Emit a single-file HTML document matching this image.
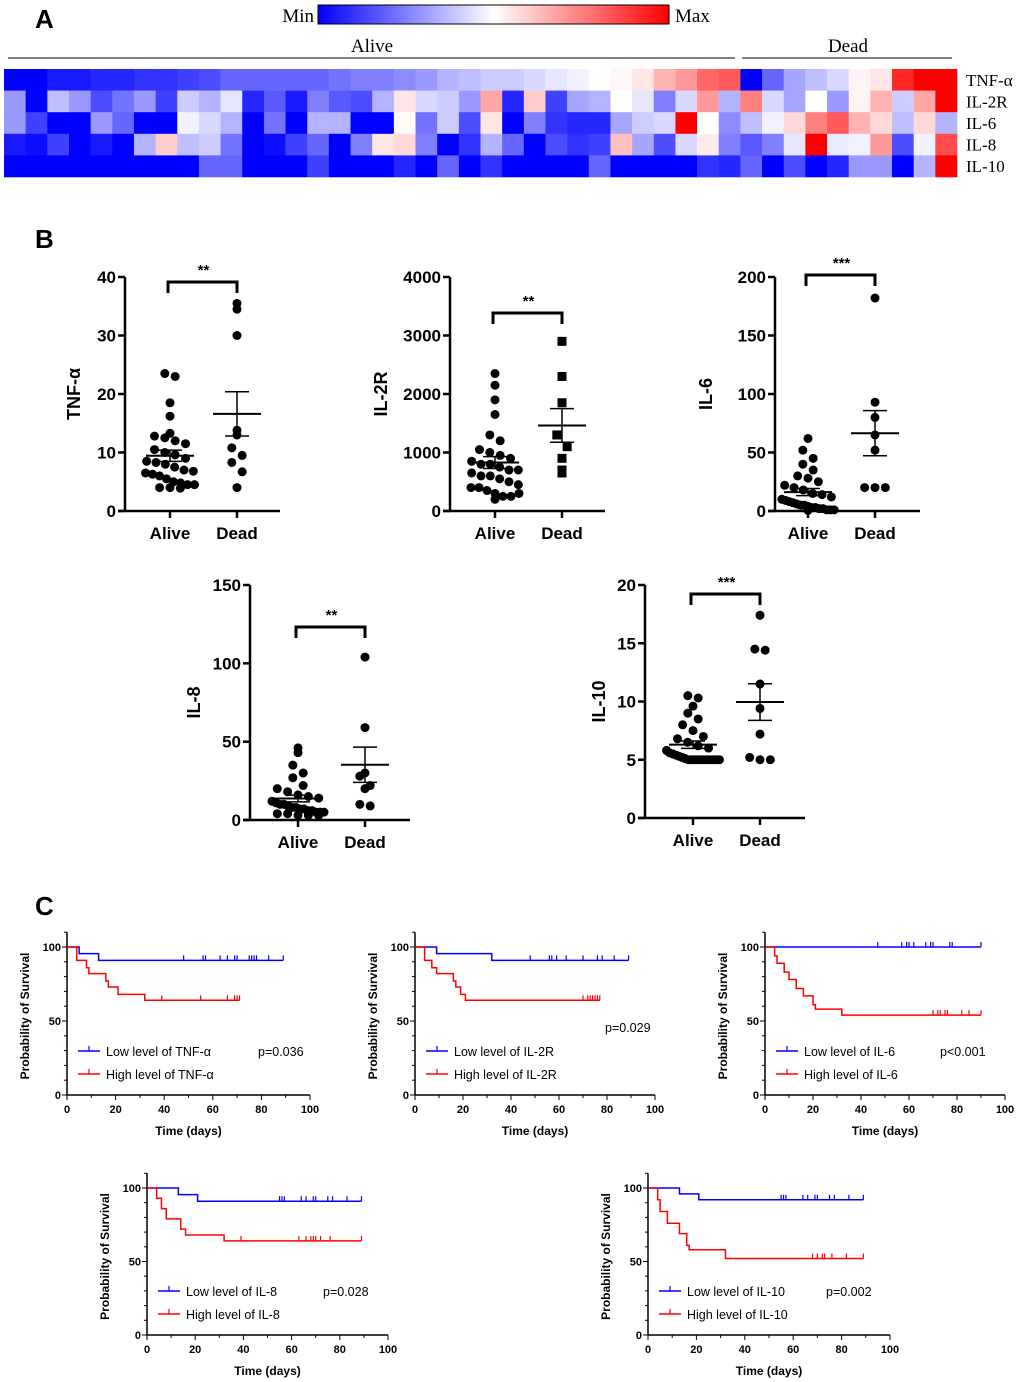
<!DOCTYPE html>
<html><head><meta charset="utf-8"><style>
body{margin:0;background:#fff}
svg{display:block;font-family:"Liberation Sans",Arial,sans-serif}
</style></head><body>
<svg id="fig" width="1020" height="1382" viewBox="0 0 1020 1382">
<defs><linearGradient id="gr" x1="0" x2="1"><stop offset="0" stop-color="#0000ff"/><stop offset="0.5" stop-color="#ffffff"/><stop offset="1" stop-color="#ff0000"/></linearGradient></defs>
<text x="35" y="28" font-size="26" font-weight="bold">A</text>
<text x="314" y="22" font-size="19" text-anchor="end" font-family="Liberation Serif,serif">Min</text>
<rect x="318" y="5" width="351" height="19" fill="url(#gr)" stroke="#000"/>
<text x="675" y="22" font-size="19" font-family="Liberation Serif,serif">Max</text>
<line x1="8" y1="58" x2="735" y2="58" stroke="#000"/>
<text x="372" y="52" font-size="19" text-anchor="middle" font-family="Liberation Serif,serif">Alive</text>
<line x1="742" y1="58" x2="952" y2="58" stroke="#000"/>
<text x="848" y="52" font-size="19" text-anchor="middle" font-family="Liberation Serif,serif">Dead</text>
<g id="heat"></g>
<text x="35" y="248" font-size="26" font-weight="bold">B</text>
<g id="scat"></g>
<text x="35" y="915" font-size="26" font-weight="bold">C</text>
<g id="km"></g>
</svg>
<script>
const heatRows = ["TNF-α","IL-2R","IL-6","IL-8","IL-10"];
const heatTNF = [-1,-1,-0.9,-0.9,-0.85,-0.85,-0.8,-0.8,-0.75,-0.7,-0.6,-0.6,-0.6,-0.6,-0.6,-0.55,-0.5,-0.5,-0.45,-0.4,-0.3,-0.25,-0.2,-0.2,-0.15,-0.1,-0.05,0,0.03,0.1,0.3,0.4,0.6,0.65,-1,-0.6,-0.35,-0.25,-0.15,0.05,0.1,0.85,1,1];
const heatIL2R = [-0.4,-1,-0.25,-0.4,-0.7,-0.55,-0.4,-0.75,-0.2,-0.3,-0.1,-0.85,-0.65,-0.9,-0.5,-0.65,-0.7,-0.3,0.1,-0.15,-0.2,-0.4,0.35,-0.85,0.2,-0.75,-0.35,-0.3,0,-0.1,-0.5,-0.15,0.4,-0.3,0.5,-0.15,-0.35,0,-0.4,0.05,0.3,-0.2,0.35,1];
const heatIL6 = [-0.4,-0.75,-1,-1,-0.4,-0.6,-1,-1,-0.05,-0.15,-0.3,-1,-0.55,-1,-0.3,-0.3,-1,-1,0.02,-0.55,-0.2,-0.7,0.1,-1,-0.5,-0.8,-0.85,-0.85,-0.35,-0.2,-0.15,1,0,-0.45,-0.25,-0.05,0.15,0.5,0.65,0.3,0.15,-0.25,0.15,-0.3];
const heatIL8 = [-0.9,-0.95,-0.75,-1,-0.9,-1,-0.3,0.2,-0.25,-0.2,-0.55,-1,-0.95,-0.75,-0.6,-1,-0.5,0.1,0.15,-0.5,-1,-0.8,-0.3,-0.6,-1,-0.7,-0.8,-0.75,0.25,-0.35,-0.7,-0.15,0.08,-0.5,-0.65,-0.5,-0.1,1,-0.08,-0.05,0.4,-0.7,-0.05,0.7];
const heatIL10 = [-1,-1,-1,-1,-1,-1,-1,-1,-1,-0.6,-0.6,-1,-1,-1,-0.75,-1,-1,-1,-0.85,-1,-0.6,-1,-0.8,-1,-1,-1,-1,-0.6,-1,-1,-1,-1,-0.8,-0.85,-0.6,-1,-0.7,-1,-0.85,-0.4,-0.4,-1,-0.3,1];

const NS="http://www.w3.org/2000/svg";
function mk(tag,attrs,parent,text){const e=document.createElementNS(NS,tag);for(const k in attrs)e.setAttribute(k,attrs[k]);if(text!==undefined)e.textContent=text;parent.appendChild(e);return e;}
function col(v){let r,g,b;if(v<0){const t=1+v;r=Math.round(255*t);g=r;b=255;}else{const t=1-v;r=255;g=Math.round(255*t);b=g;}return `rgb(${r},${g},${b})`;}

(function(){
  const g=document.getElementById('heat');const data=[heatTNF,heatIL2R,heatIL6,heatIL8,heatIL10];
  const x0=4,x1=957,y0=69,y1=177;const cw=(x1-x0)/heatTNF.length,ch=(y1-y0)/data.length;
  data.forEach((row,ri)=>{row.forEach((v,ci)=>{
    const r=mk('rect',{x:x0+ci*cw,y:y0+ri*ch,width:cw+0.3,height:ch+0.3,fill:col(v)},g);
    
    
  });
  const t=mk('text',{x:966,y:y0+ri*ch+ch/2+6,'font-size':17,'font-family':'Liberation Serif,serif'},g,heatRows[ri]);
  
  
  });
})();

const tnfAlive=[23.5,23,18.5,16.2,13.3,12.8,12.5,12,11.5,10.5,10,9.6,9,8.5,8.3,8,7.5,7,6.8,6.5,6.3,6,5.5,5,4.8,4.5,4.5,4,4,3.9];
const tnfDead=[35.5,34.5,30,13.8,13,10.8,9.5,8.3,6.7,4];
const il2rAlive=[2350,2150,1900,1650,1300,1200,1050,1000,950,900,850,800,800,750,700,700,650,600,600,550,500,450,400,400,350,300,250,200,250,300];
const il2rDead=[2900,2300,1850,1300,1100,900,700,650];
const il6Alive=[62,52,45,40,35,30,28,25,22,20,18,15,14,12,10,9,8,7,6,5,5,4,3,3,2,2,1,1,1,0.5];
const il6Dead=[182,93,80,65,52,20,20,20];
const il8Alive=[46,43,35,30,27,22,20,18,16,15,14,12,11,10,10,9,8,8,7,7,6,6,5,5,5,4,4,3,3,3];
const il8Dead=[104,59,30,28,22,20,10,9];
const il10Alive=[10.5,10.3,9.6,9,8.5,8,7.5,7,6.8,6.5,6.2,6,5.8,5.6,5.5,5.4,5.3,5.2,5.1,5,5,5,5,5,5,5,5,5,5,5];
const il10Dead=[17.4,14.5,14.4,11.5,9.4,7.2,5.2,5,5];
const catLabels=["Alive","Dead"];
const tnfTicks=[0,10,20,30,40], il2rTicks=[0,1000,2000,3000,4000], il6Ticks=[0,50,100,150,200], il8Ticks=[0,50,100,150], il10Ticks=[0,5,10,15,20];

const panels=[
 {name:'tnf',label:'TNF-α',alive:tnfAlive,dead:tnfDead,ticks:tnfTicks,ax:125,top:277,bot:511,xa:170,xd:237,xe:280,lx:80,br:282,stars:'**',sq:false},
 {name:'il2r',label:'IL-2R',alive:il2rAlive,dead:il2rDead,ticks:il2rTicks,ax:450,top:277,bot:511,xa:495,xd:562,xe:605,lx:387,br:313,stars:'**',sq:true},
 {name:'il6',label:'IL-6',alive:il6Alive,dead:il6Dead,ticks:il6Ticks,ax:775,top:277,bot:511,xa:808,xd:875,xe:920,lx:712,br:275,stars:'***',sq:false},
 {name:'il8',label:'IL-8',alive:il8Alive,dead:il8Dead,ticks:il8Ticks,ax:250,top:585,bot:820,xa:298,xd:365,xe:410,lx:200,br:627,stars:'**',sq:false},
 {name:'il10',label:'IL-10',alive:il10Alive,dead:il10Dead,ticks:il10Ticks,ax:645,top:585,bot:818,xa:693,xd:760,xe:805,lx:605,br:594,stars:'***',sq:false}
];
function swarm(vals,ys,cx,r){
  const bh=r*2.8;const bins={};
  vals.forEach((v,i)=>{const y=ys(v);const k=Math.round(y/bh);(bins[k]=bins[k]||[]).push([i,y]);});
  const out=[];
  Object.values(bins).forEach(b=>{const n=b.length;const sp=Math.min(r*2.3,56/Math.max(n,1));
    b.forEach(([i,y],j)=>{out.push([cx+(j-(n-1)/2)*sp,y]);});});
  return out;
}
function stats(a){const m=a.reduce((s,v)=>s+v,0)/a.length;const sd=Math.sqrt(a.reduce((s,v)=>s+(v-m)**2,0)/(a.length-1));return [m,sd/Math.sqrt(a.length)];}
(function(){
 const G=document.getElementById('scat');
 panels.forEach(p=>{
  const g=mk('g',{},G);
  const max=p.ticks[p.ticks.length-1];const ys=v=>p.bot-(v/max)*(p.bot-p.top);
  mk('line',{x1:p.ax,y1:p.top,x2:p.ax,y2:p.bot,stroke:'#000','stroke-width':2.5},g);
  mk('line',{x1:p.ax-7,y1:p.bot,x2:p.xe,y2:p.bot,stroke:'#000','stroke-width':2.5},g);
  p.ticks.forEach(t=>{mk('line',{x1:p.ax-7,y1:ys(t),x2:p.ax,y2:ys(t),stroke:'#000','stroke-width':2.5},g);
   const tl=mk('text',{x:p.ax-9,y:ys(t)+6,'text-anchor':'end','font-size':17,'font-weight':'bold'},g,t);
   
   });
  [p.xa,p.xd].forEach((x,i)=>{mk('line',{x1:x,y1:p.bot,x2:x,y2:p.bot+7,stroke:'#000','stroke-width':2.5},g);
   const cl=mk('text',{x:x,y:p.bot+28,'text-anchor':'middle','font-size':17,'font-weight':'bold'},g,catLabels[i]);
   
   });
  const yl=mk('text',{x:p.lx,y:(p.top+p.bot)/2,'text-anchor':'middle','font-size':18,'font-weight':'bold',transform:`rotate(-90 ${p.lx} ${(p.top+p.bot)/2})`},g,p.label);
  
  
  [[p.alive,p.xa,false],[p.dead,p.xd,p.sq]].forEach(([arr,cx,sq])=>{
   swarm(arr,ys,cx,4.5).forEach(([x,y])=>{
    const m=sq?mk('rect',{x:x-4.5,y:y-4.5,width:9,height:9,fill:'#000'},g):mk('circle',{cx:x,cy:y,r:4.5,fill:'#000'},g);
    
    
   });
   const [mn,se]=stats(arr);
   const mm=mk('line',{x1:cx-24,y1:ys(mn),x2:cx+24,y2:ys(mn),stroke:'#000','stroke-width':2},g);
   mk('line',{x1:cx,y1:ys(mn-se),x2:cx,y2:ys(mn+se),stroke:'#000','stroke-width':1.5},g);
   mk('line',{x1:cx-12,y1:ys(mn+se),x2:cx+12,y2:ys(mn+se),stroke:'#000','stroke-width':1.5},g);
   mk('line',{x1:cx-12,y1:ys(mn-se),x2:cx+12,y2:ys(mn-se),stroke:'#000','stroke-width':1.5},g);
  });
  const b=mk('path',{d:`M${p.xa-2} ${p.br+11}V${p.br}H${p.xd}V${p.br+11}`,fill:'none',stroke:'#000','stroke-width':3},g);
  
  mk('text',{x:(p.xa+p.xd)/2,y:p.br-7,'text-anchor':'middle','font-size':15,'font-weight':'bold'},g,p.stars);
 });
})();

const tnfLowSteps=[[0,100],[5,95.5],[13,91],[89,91]], tnfLowCens=[48,56,57,63,66,69,70,75,76,77,78,83,89];
const tnfHighSteps=[[0,100],[4,91],[8,86],[9,82],[16,77],[17,73],[21,68],[32,64],[71,64]], tnfHighCens=[39,55,66,69,70,71];
const il2rLowSteps=[[0,100],[9,95.5],[32,91],[89,91]], il2rLowCens=[48,56,57,59,63,70,76,78,83,89];
const il2rHighSteps=[[0,100],[4,91],[7,86],[9,82],[16,77],[17,73],[19,68],[21,64],[77,64]], il2rHighCens=[70,72,73,74,75,76,77];
const il6LowSteps=[[0,100],[90,100]], il6LowCens=[47,57,59,60,62,67,69,70,77,78,90];
const il6HighSteps=[[0,100],[4,94],[5,89],[8,83],[10,78],[13,72],[16,67],[20,61],[21,58],[32,54],[90,54]], il6HighCens=[70,72,73,75,76,82,85,90];
const il8LowSteps=[[0,100],[13,95.5],[21,91],[89,91]], il8LowCens=[55,56,57,64,66,69,70,75,77,83,89];
const il8HighSteps=[[0,100],[4,93],[6,86],[8,79],[14,72],[16,68],[32,64],[89,64]], il8HighCens=[39,63,66,68,69,70,72,76,89];
const il10LowSteps=[[0,100],[13,96],[21,92],[89,92]], il10LowCens=[55,56,57,64,66,69,70,75,77,83,89];
const il10HighSteps=[[0,100],[4,92],[5,84],[8,76],[13,69],[16,61],[17,58],[32,52],[89,52]], il10HighCens=[68,70,72,73,76,82,89];
const kmX=[0,20,40,60,80,100], kmY=[0,50,100];
const km=[
 {name:'tnf',lbl:'TNF-α',low:[tnfLowSteps,tnfLowCens],high:[tnfHighSteps,tnfHighCens],x0:67,x1:310,top:947,bot:1095,p:'p=0.036',px:258,py:1056,ly:1051},
 {name:'il2r',lbl:'IL-2R',low:[il2rLowSteps,il2rLowCens],high:[il2rHighSteps,il2rHighCens],x0:415,x1:655,top:947,bot:1095,p:'p=0.029',px:605,py:1032,ly:1051},
 {name:'il6',lbl:'IL-6',low:[il6LowSteps,il6LowCens],high:[il6HighSteps,il6HighCens],x0:765,x1:1005,top:947,bot:1095,p:'p<0.001',px:940,py:1056,ly:1051},
 {name:'il8',lbl:'IL-8',low:[il8LowSteps,il8LowCens],high:[il8HighSteps,il8HighCens],x0:147,x1:388,top:1188,bot:1335,p:'p=0.028',px:323,py:1296,ly:1291},
 {name:'il10',lbl:'IL-10',low:[il10LowSteps,il10LowCens],high:[il10HighSteps,il10HighCens],x0:648,x1:890,top:1188,bot:1335,p:'p=0.002',px:826,py:1296,ly:1291}
];
(function(){
 const G=document.getElementById('km');
 km.forEach(k=>{
  const g=mk('g',{},G);
  const xs=t=>k.x0+t/100*(k.x1-k.x0), ys=v=>k.bot-v/100*(k.bot-k.top);
  mk('line',{x1:k.x0,y1:ys(110),x2:k.x0,y2:k.bot,stroke:'#000','stroke-width':1.5},g);
  mk('line',{x1:k.x0,y1:k.bot,x2:k.x1,y2:k.bot,stroke:'#000','stroke-width':1.5},g);
  for(let v=0;v<=110;v+=10){const w=v%50==0?5:3;mk('line',{x1:k.x0-w,y1:ys(v),x2:k.x0,y2:ys(v),stroke:'#000'},g);}
  for(let t=0;t<=100;t+=10){const w=t%20==0?5:3;mk('line',{x1:xs(t),y1:k.bot,x2:xs(t),y2:k.bot+w,stroke:'#000'},g);}
  kmY.forEach(v=>{const t=mk('text',{x:k.x0-6,y:ys(v)+4,'text-anchor':'end','font-size':11,'font-weight':'bold'},g,v);});
  kmX.forEach(v=>{const t=mk('text',{x:xs(v),y:k.bot+18,'text-anchor':'middle','font-size':11,'font-weight':'bold'},g,v);});
  const lx=k.x0-38,ly=(k.top+k.bot)/2-5;
  const yt=mk('text',{x:lx,y:ly,'text-anchor':'middle','font-size':12,'font-weight':'bold',transform:`rotate(-90 ${lx} ${ly})`},g,'Probability of Survival');
  
  const xt=mk('text',{x:(k.x0+k.x1)/2,y:k.bot+40,'text-anchor':'middle','font-size':12,'font-weight':'bold'},g,'Time (days)');
  
  [[k.low,'#0000ff','Low level of '],[k.high,'#ff0000','High level of ']].forEach(([[st,cen],c,txt],i)=>{
   let d=`M${xs(st[0][0])} ${ys(st[0][1])}`;
   for(let j=1;j<st.length;j++){d+=`H${xs(st[j][0])}V${ys(st[j][1])}`;}
   const pth=mk('path',{d:d,fill:'none',stroke:c,'stroke-width':1.5},g);
   
   
   cen.forEach(t=>{let v=st[0][1];st.forEach(s=>{if(s[0]<=t)v=s[1];});
    const cm=mk('line',{x1:xs(t),y1:ys(v)-5,x2:xs(t),y2:ys(v),stroke:c,'stroke-width':1.2},g);
    });
   const yy=k.ly+i*23;
   const lg=mk('g',{},g);
   mk('line',{x1:k.x0+11,y1:yy,x2:k.x0+33,y2:yy,stroke:c,'stroke-width':1.5},lg);
   mk('line',{x1:k.x0+22,y1:yy-5,x2:k.x0+22,y2:yy,stroke:c,'stroke-width':1.2},lg);
   mk('text',{x:k.x0+39,y:yy+5,'font-size':12.5},lg,txt+k.lbl);
  });
  const pt=mk('text',{x:k.px,y:k.py,'font-size':12.5},g,k.p);
  
 });
})();
</script>
</body></html>
